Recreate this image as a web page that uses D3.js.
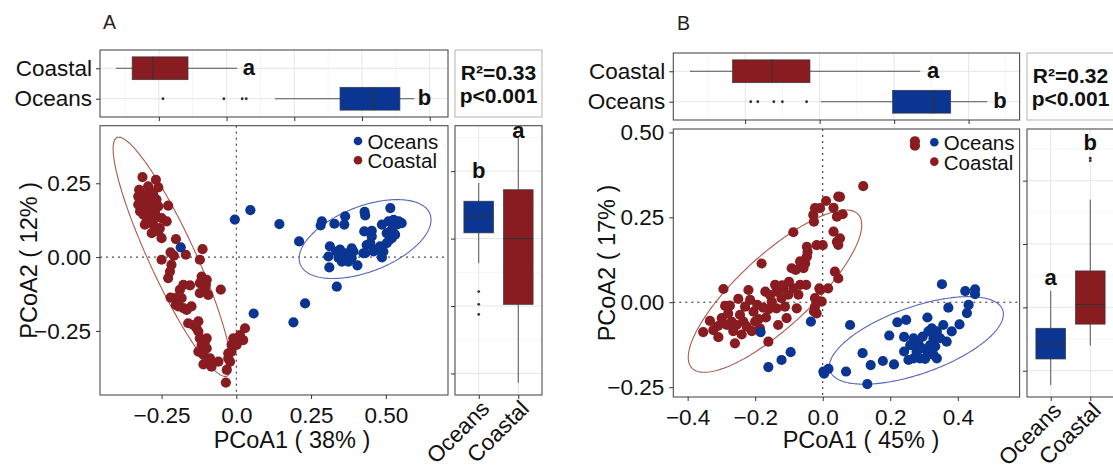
<!DOCTYPE html>
<html>
<head>
<meta charset="utf-8">
<script src="https://cdn.jsdelivr.net/npm/d3@7"></script>
<style>
  body { margin: 0; background: #fff; }
  svg { font-family: "Liberation Sans", Arial, sans-serif; }
</style>
</head>
<body>
<svg id="fig" width="1113" height="466"></svg>
<script>
// ---------------- data ----------------
const groups = ["Oceans", "Coastal"];
const groupColors = { Oceans: "#0b3592", Coastal: "#891c21" };
const ellipseColors = { Oceans: "#5566bb", Coastal: "#ad5a50" };

// Panel A: PCoA coordinates [PCoA1, PCoA2]
const coastalA = [
  [-0.314,0.271],[-0.269,0.262],[-0.261,0.236],[-0.325,0.228],[-0.295,0.240],[-0.289,0.223],
  [-0.328,0.206],[-0.311,0.212],[-0.278,0.212],[-0.267,0.195],[-0.300,0.189],[-0.328,0.178],
  [-0.317,0.161],[-0.289,0.166],[-0.261,0.172],[-0.228,0.174],[-0.311,0.144],[-0.295,0.138],
  [-0.272,0.144],[-0.250,0.132],[-0.233,0.121],[-0.306,0.110],[-0.278,0.110],[-0.256,0.098],
  [-0.283,0.081],[-0.250,0.064],[-0.261,0.087],[-0.300,0.121],[-0.322,0.155],[-0.289,0.206],
  [-0.272,0.155],[-0.306,0.189],[-0.283,0.178],[-0.295,0.149],[-0.278,0.127],[-0.323,0.195],
  [-0.202,0.061],[-0.113,0.027],[-0.169,0.008],[-0.220,0.016],[-0.209,0.005],[-0.250,-0.009],
  [-0.122,-0.009],[-0.217,-0.026],[-0.222,-0.049],[-0.228,-0.071],[-0.116,-0.066],[-0.099,-0.077],
  [-0.122,-0.088],[-0.102,-0.094],[-0.052,-0.110],[-0.122,-0.122],[-0.094,-0.128],[-0.105,-0.111],
  [-0.177,-0.094],[-0.155,-0.096],[-0.189,-0.111],[-0.205,-0.139],[-0.220,-0.137],[-0.183,-0.139],
  [-0.194,-0.167],[-0.177,-0.173],[-0.150,-0.167],[-0.166,-0.179],[-0.202,-0.162],[-0.161,-0.224],
  [-0.127,-0.218],[-0.133,-0.241],[-0.144,-0.230],[-0.127,-0.252],[-0.099,-0.275],[-0.116,-0.297],
  [-0.127,-0.320],[-0.099,-0.309],[-0.110,-0.331],[-0.088,-0.343],[-0.110,-0.363],[-0.083,-0.371],
  [-0.060,-0.354],[-0.027,-0.343],[-0.032,-0.382],[-0.021,-0.354],[-0.010,-0.275],[-0.016,-0.297],
  [0.001,-0.297],[0.029,-0.241],[0.023,-0.281],[0.012,-0.264],[-0.035,-0.425],[-0.016,-0.320],
  [-0.027,-0.326],[-0.122,-0.275],[-0.105,-0.286]
];
const oceansA = [
  [-0.186,0.033],[-0.005,0.127],[0.047,0.159],[0.058,-0.191],
  [0.144,0.112],[0.210,0.053],[0.191,-0.221],[0.230,-0.157],[0.336,-0.100],[0.286,0.121],
  [0.282,0.107],[0.328,0.113],[0.364,0.138],[0.361,0.110],[0.429,0.153],[0.431,0.141],
  [0.515,0.166],[0.487,0.110],[0.453,0.089],[0.453,0.070],[0.526,0.126],[0.537,0.110],
  [0.553,0.115],[0.520,0.093],[0.503,0.081],[0.520,0.064],[0.503,0.047],[0.481,0.036],
  [0.492,0.019],[0.487,-0.001],[0.459,0.019],[0.448,0.047],[0.436,0.041],[0.425,0.013],
  [0.313,0.036],[0.308,0.002],[0.311,-0.035],[0.347,0.025],[0.364,0.013],[0.386,0.030],
  [0.392,0.019],[0.353,-0.015],[0.375,-0.015],[0.386,-0.003],[0.405,-0.028],[0.342,-0.003],
  [0.509,0.121],[0.543,0.121],[0.531,0.076],[0.512,0.059],[0.470,0.025],[0.431,0.013],
  [0.428,0.087],[0.370,0.008],[0.334,0.019]
];

// Panel B: PCoA coordinates [PCoA1, PCoA2]
const coastalB = [
  [-0.354,-0.088],[-0.334,-0.055],[-0.309,-0.103],[-0.324,-0.082],[-0.294,0.039],[-0.289,-0.011],
  [-0.299,-0.047],[-0.280,-0.033],[-0.284,-0.067],[-0.270,-0.057],[-0.260,-0.121],[-0.255,-0.067],
  [-0.245,-0.037],[-0.235,-0.057],[-0.230,-0.013],[-0.220,0.036],[-0.215,0.007],[-0.225,-0.072],
  [-0.205,-0.028],[-0.200,-0.057],[-0.194,-0.008],[-0.186,-0.077],[-0.181,0.114],[-0.176,-0.016],
  [-0.168,-0.045],[-0.161,-0.116],[-0.170,0.031],[-0.156,0.021],[-0.151,0.002],[-0.141,0.051],
  [-0.137,0.031],[-0.137,-0.018],[-0.132,-0.067],[-0.122,0.012],[-0.117,0.041],[-0.112,-0.013],
  [-0.107,-0.047],[-0.102,0.022],[-0.087,0.206],[-0.092,0.100],[-0.087,0.041],[-0.077,-0.018],
  [-0.072,0.022],[-0.067,0.051],[-0.067,0.120],[-0.057,0.100],[-0.052,0.114],[-0.047,0.134],
  [-0.047,0.163],[-0.045,0.148],[-0.049,0.051],[-0.023,0.012],[-0.018,-0.033],[-0.010,0.041],
  [-0.018,0.168],[0.000,0.168],[-0.028,0.257],[-0.023,0.277],[-0.026,0.237],[-0.008,0.277],
  [0.010,0.298],[0.032,0.278],[0.046,0.311],[0.032,0.208],[0.042,0.178],[0.036,0.090],
  [0.046,0.070],[0.016,0.041],[-0.003,0.002],[-0.023,-0.013],[0.120,0.342],[0.051,0.310],
  [0.059,0.259],[0.042,0.252],[0.051,0.188],[0.046,0.169],[-0.008,0.036],[-0.026,-0.027],
  [-0.310,-0.070],[-0.265,-0.085],[-0.240,-0.095],[-0.210,-0.085],[-0.190,-0.050],[-0.160,-0.020],
  [-0.120,0.050],[-0.100,0.060],[-0.080,0.095],[-0.275,-0.010],[-0.250,0.010],
  [0.273,0.474],[0.273,0.461]
];
const oceansB = [
  [-0.035,-0.057],[-0.184,-0.088],[-0.161,-0.191],[-0.122,-0.170],[-0.095,-0.147],[0.002,-0.204],
  [0.017,-0.196],[0.081,-0.067],[0.004,-0.210],[0.069,-0.204],[0.118,-0.150],[0.142,-0.185],
  [0.132,-0.241],[0.178,-0.173],[0.211,-0.183],[0.197,-0.098],[0.221,-0.059],[0.247,-0.052],
  [0.241,-0.102],[0.259,-0.126],[0.241,-0.145],[0.254,-0.170],[0.269,-0.165],[0.283,-0.121],
  [0.288,-0.165],[0.303,-0.167],[0.296,-0.101],[0.310,-0.045],[0.323,-0.077],[0.318,-0.126],
  [0.310,-0.145],[0.328,-0.155],[0.333,-0.130],[0.338,-0.165],[0.348,-0.106],[0.357,-0.067],
  [0.353,0.053],[0.372,-0.016],[0.382,-0.086],[0.367,-0.116],[0.405,-0.065],[0.427,-0.032],
  [0.432,-0.008],[0.422,0.033],[0.451,0.038],[0.451,0.024],[0.278,-0.145],[0.293,-0.135],
  [0.328,-0.106],[0.338,-0.086],[0.313,-0.086],[0.269,-0.106]
];

// 95% ellipses: centre and two conjugate semi-diameters, in PCoA units
const ellipsesA = [
  { group: "Coastal", cx: -0.2152, cy: 0.0010, ux: 0.1841, uy: -0.4037, vx: 0.0699, vy: 0.0328 },
  { group: "Oceans",  cx: 0.4307,  cy: 0.0611, ux: 0.2169, uy: 0.0851,  vx: 0.0395, vy: -0.1031 }
];
const ellipsesB = [
  { group: "Coastal", cx: -0.1413, cy: 0.0326,  ux: 0.2465, uy: 0.2259, vx: 0.0723, vy: -0.0779 },
  { group: "Oceans",  cx: 0.2773,  cy: -0.1124, ux: 0.2556, uy: 0.0898, vx: 0.0330, vy: -0.0926 }
];

// Box statistics along PCoA1 (top) and PCoA2 (side)
const topBoxA = [
  { group: "Coastal", lo: -0.327, q1: -0.279, med: -0.217, q3: -0.114, hi: 0.031, out: [] },
  { group: "Oceans",  lo: 0.143,  q1: 0.335,  med: 0.433,  q3: 0.512,  hi: 0.554, out: [-0.188, -0.008, 0.046, 0.058] }
];
const sideBoxA = [
  { group: "Oceans",  lo: -0.073, q1: 0.017,  med: 0.066, q3: 0.111, hi: 0.165, out: [-0.157, -0.195, -0.225] },
  { group: "Coastal", lo: -0.428, q1: -0.195, med: 0.000, q3: 0.145, hi: 0.300, out: [] }
];
const topBoxB = [
  { group: "Coastal", lo: -0.348, q1: -0.234, med: -0.128, q3: -0.026, hi: 0.270, out: [] },
  { group: "Oceans",  lo: 0.003,  q1: 0.196,  med: 0.306,  q3: 0.352,  hi: 0.450, out: [-0.185, -0.166, -0.123, -0.100, -0.035] }
];
const sideBoxB = [
  { group: "Oceans",  lo: -0.245, q1: -0.163, med: -0.115, q3: -0.066, hi: 0.052, out: [] },
  { group: "Coastal", lo: -0.121, q1: -0.053, med: 0.009,  q3: 0.115,  hi: 0.340, out: [0.471, 0.463] }
];

// Significance letters: [group, label, position on value axis]
const topLettersA  = [["Coastal", "a", 0.048], ["Oceans", "b", 0.565]];
const sideLettersA = [["Oceans", "b", 0.180], ["Coastal", "a", 0.299]];
const topLettersB  = [["Coastal", "a", 0.288], ["Oceans", "b", 0.466]];
const sideLettersB = [["Oceans", "a", 0.070], ["Coastal", "b", 0.497]];

// PERMANOVA results
const statsA = ["R\u00B2=0.33", "p<0.001"];
const statsB = ["R\u00B2=0.32", "p<0.001"];

// Axis titles
const titlesA = ["PCoA1 ( 38% )", "PCoA2 ( 12% )"];
const titlesB = ["PCoA1 ( 45% )", "PCoA2 ( 17% )"];

// Tick values and labels
const xTicksA = [-0.25, 0, 0.25, 0.5];
const xTickLabelsA = ["\u22120.25", "0.0", "0.25", "0.50"];
const yTicksA = [-0.25, 0, 0.25];
const yTickLabelsA = ["\u22120.25", "0.00", "0.25"];
const xTicksB = [-0.4, -0.2, 0, 0.2, 0.4];
const xTickLabelsB = ["\u22120.4", "\u22120.2", "0.0", "0.2", "0.4"];
const yTicksB = [-0.25, 0, 0.25, 0.5];
const yTickLabelsB = ["\u22120.25", "0.00", "0.25", "0.50"];
const topTicksA = [-0.2, 0, 0.2, 0.4, 0.6];
const sideTicksA = [-0.4, -0.2, 0, 0.2];
const topTicksB = [-0.2, 0, 0.2, 0.4];
const sideTicksB = [-0.2, 0, 0.2, 0.4];

// ---------------- layout ----------------
const panels = [
  {
    tag: "A", tagPos: [103, 29],
    coastal: coastalA, oceans: oceansA, ellipses: ellipsesA,
    topBox: topBoxA, sideBox: sideBoxA, topLetters: topLettersA, sideLetters: sideLettersA,
    stats: statsA, titles: titlesA,
    xTicks: xTicksA, xTickLabels: xTickLabelsA, yTicks: yTicksA, yTickLabels: yTickLabelsA,
    topTicks: topTicksA, sideTicks: sideTicksA,
    main: [100, 448, 125.7, 395], xDomain: [-0.456, 0.708], yDomain: [-0.467, 0.445],
    top: [100, 448, 50, 117], topDomain: [-0.374, 0.654],
    side: [455, 542, 125.7, 395], sideDomain: [-0.464, 0.335],
    stat: [455, 542, 50, 117],
    legend: [358, 141], xTitleX: 292, yTitleX: 37
  },
  {
    tag: "B", tagPos: [677, 30],
    coastal: coastalB, oceans: oceansB, ellipses: ellipsesB,
    topBox: topBoxB, sideBox: sideBoxB, topLetters: topLettersB, sideLetters: sideLettersB,
    stats: statsB, titles: titlesB,
    xTicks: xTicksB, xTickLabels: xTickLabelsB, yTicks: yTicksB, yTickLabels: yTickLabelsB,
    topTicks: topTicksB, sideTicks: sideTicksB,
    main: [673.3, 1019.6, 129, 397], xDomain: [-0.4425, 0.583], yDomain: [-0.279, 0.51],
    top: [673.3, 1019.6, 53, 120], topDomain: [-0.393, 0.537],
    side: [1027, 1114, 129, 397], sideDomain: [-0.283, 0.563],
    stat: [1027, 1114, 53, 120],
    legend: [934.3, 142.3], xTitleX: 861, yTitleX: 615
  }
];

// ---------------- drawing ----------------
const svg = d3.select("#fig");
const BORDER = "#4d4d4d", GRID = "#e6e6e6", GRID_MINOR = "#f3f3f3";
const TICK_FONT = 22.5;

function minorTicks(majors, domain) {
  const step = majors[1] - majors[0];
  const lo = Math.min(...domain), hi = Math.max(...domain);
  const out = [];
  for (let k = -6; k < majors.length + 6; k++) {
    const v = majors[0] + (k + 0.5) * step;
    if (v > lo && v < hi) out.push(v);
  }
  return out;
}

function styleAxis(sel, size) {
  sel.select(".domain").remove();
  sel.selectAll(".tick line").attr("stroke", "#333").attr("stroke-width", 1);
  sel.selectAll(".tick text").attr("fill", "#111").attr("font-size", size)
     .attr("font-family", "'Liberation Sans', Arial, sans-serif");
}

function drawBox(g, s, pos, thick, vs, horizontal) {
  const c = groupColors[s.group];
  const line = (a, b) => horizontal
    ? g.append("line").attr("x1", vs(a)).attr("x2", vs(b)).attr("y1", pos).attr("y2", pos)
    : g.append("line").attr("y1", vs(a)).attr("y2", vs(b)).attr("x1", pos).attr("x2", pos);
  line(s.lo, s.q1).attr("stroke", "#555").attr("stroke-width", 1);
  line(s.q3, s.hi).attr("stroke", "#555").attr("stroke-width", 1);
  if (horizontal) {
    g.append("rect").attr("x", vs(s.q1)).attr("width", vs(s.q3) - vs(s.q1))
      .attr("y", pos - thick / 2).attr("height", thick)
      .attr("fill", c).attr("stroke", "#3a3a3a").attr("stroke-width", 0.7);
    g.append("line").attr("x1", vs(s.med)).attr("x2", vs(s.med))
      .attr("y1", pos - thick / 2).attr("y2", pos + thick / 2)
      .attr("stroke", "#333").attr("stroke-width", 1.1);
  } else {
    g.append("rect").attr("y", vs(s.q3)).attr("height", vs(s.q1) - vs(s.q3))
      .attr("x", pos - thick / 2).attr("width", thick)
      .attr("fill", c).attr("stroke", "#3a3a3a").attr("stroke-width", 0.7);
    g.append("line").attr("y1", vs(s.med)).attr("y2", vs(s.med))
      .attr("x1", pos - thick / 2).attr("x2", pos + thick / 2)
      .attr("stroke", "#333").attr("stroke-width", 1.1);
  }
  s.out.forEach(v => {
    g.append("circle").attr("r", 1.4).attr("fill", "#333")
      .attr(horizontal ? "cx" : "cy", vs(v)).attr(horizontal ? "cy" : "cx", pos);
  });
}

panels.forEach((P, pi) => {
  const g = svg.append("g");

  // panel tag
  g.append("text").attr("x", P.tagPos[0]).attr("y", P.tagPos[1])
    .attr("font-size", 19.5).attr("fill", "#222").text(P.tag);

  // ---------- top boxplot: PCoA1 by group ----------
  {
    const [x0, x1, y0, y1] = P.top;
    const vs = d3.scaleLinear().domain(P.topDomain).range([x0, x1]);
    const cs = d3.scalePoint().domain(["Coastal", "Oceans"]).range([y0, y1]).padding(0.6);
    const tg = g.append("g");
    tg.append("rect").attr("x", x0).attr("y", y0).attr("width", x1 - x0).attr("height", y1 - y0).attr("fill", "#fff");
    minorTicks(P.topTicks, P.topDomain).forEach(v =>
      tg.append("line").attr("x1", vs(v)).attr("x2", vs(v)).attr("y1", y0).attr("y2", y1)
        .attr("stroke", GRID_MINOR).attr("stroke-width", 0.8));
    P.topTicks.forEach(v =>
      tg.append("line").attr("x1", vs(v)).attr("x2", vs(v)).attr("y1", y0).attr("y2", y1)
        .attr("stroke", GRID).attr("stroke-width", 1));
    cs.domain().forEach(c =>
      tg.append("line").attr("x1", x0).attr("x2", x1).attr("y1", cs(c)).attr("y2", cs(c))
        .attr("stroke", GRID).attr("stroke-width", 1));
    const thick = cs.step() * 0.75;
    P.topBox.forEach(s => drawBox(tg, s, cs(s.group), thick, vs, true));
    P.topLetters.forEach(([grp, lab, v]) =>
      tg.append("text").attr("x", vs(v)).attr("y", cs(grp) + 6.5)
        .attr("font-size", 22).attr("font-weight", "bold").attr("fill", "#111").text(lab));
    tg.append("rect").attr("x", x0).attr("y", y0).attr("width", x1 - x0).attr("height", y1 - y0)
      .attr("fill", "none").attr("stroke", BORDER).attr("stroke-width", 1.1);
    tg.append("g").attr("transform", `translate(0,${y1})`)
      .call(d3.axisBottom(vs).tickValues(P.topTicks).tickSize(4).tickFormat(""))
      .call(a => styleAxis(a, TICK_FONT));
    tg.append("g").attr("transform", `translate(${x0},0)`)
      .call(d3.axisLeft(cs).tickSize(4).tickPadding(4))
      .call(a => styleAxis(a, TICK_FONT));
  }

  // ---------- statistics box ----------
  {
    const [x0, x1, y0, y1] = P.stat;
    const sg = g.append("g");
    sg.append("rect").attr("x", x0).attr("y", y0).attr("width", x1 - x0).attr("height", y1 - y0)
      .attr("fill", "#fff").attr("stroke", "#b3b3b3").attr("stroke-width", 1);
    P.stats.forEach((t, i) =>
      sg.append("text").attr("x", (x0 + x1) / 2).attr("y", y0 + 29.5 + i * 23.5)
        .attr("text-anchor", "middle").attr("font-size", 21).attr("font-weight", "bold")
        .attr("fill", "#111").text(t));
  }

  // ---------- side boxplot: PCoA2 by group ----------
  {
    const [x0, x1, y0, y1] = P.side;
    const vs = d3.scaleLinear().domain(P.sideDomain).range([y1, y0]);
    const cs = d3.scalePoint().domain(groups).range([x0, x1]).padding(0.6);
    const bg = g.append("g");
    bg.append("rect").attr("x", x0).attr("y", y0).attr("width", x1 - x0).attr("height", y1 - y0).attr("fill", "#fff");
    minorTicks(P.sideTicks, P.sideDomain).forEach(v =>
      bg.append("line").attr("y1", vs(v)).attr("y2", vs(v)).attr("x1", x0).attr("x2", x1)
        .attr("stroke", GRID_MINOR).attr("stroke-width", 0.8));
    P.sideTicks.forEach(v =>
      bg.append("line").attr("y1", vs(v)).attr("y2", vs(v)).attr("x1", x0).attr("x2", x1)
        .attr("stroke", GRID).attr("stroke-width", 1));
    groups.forEach(c =>
      bg.append("line").attr("x1", cs(c)).attr("x2", cs(c)).attr("y1", y0).attr("y2", y1)
        .attr("stroke", GRID).attr("stroke-width", 1));
    const thick = cs.step() * 0.75;
    P.sideBox.forEach(s => drawBox(bg, s, cs(s.group), thick, vs, false));
    P.sideLetters.forEach(([grp, lab, v]) =>
      bg.append("text").attr("x", cs(grp)).attr("y", vs(v)).attr("text-anchor", "middle")
        .attr("font-size", 22).attr("font-weight", "bold").attr("fill", "#111").text(lab));
    bg.append("rect").attr("x", x0).attr("y", y0).attr("width", x1 - x0).attr("height", y1 - y0)
      .attr("fill", "none").attr("stroke", BORDER).attr("stroke-width", 1.1);
    bg.append("g").attr("transform", `translate(${x0},0)`)
      .call(d3.axisLeft(vs).tickValues(P.sideTicks).tickSize(4).tickFormat(""))
      .call(a => styleAxis(a, TICK_FONT));
    bg.append("g").attr("transform", `translate(0,${y1})`)
      .call(d3.axisBottom(cs).tickSize(4).tickFormat(""))
      .call(a => styleAxis(a, TICK_FONT));
    groups.forEach(c =>
      bg.append("text").attr("transform", `translate(${cs(c) + 12},${y1 + 15}) rotate(-45)`)
        .attr("text-anchor", "end").attr("font-size", TICK_FONT).attr("fill", "#111").text(c));
  }

  // ---------- PCoA scatter ----------
  {
    const [x0, x1, y0, y1] = P.main;
    const x = d3.scaleLinear().domain(P.xDomain).range([x0, x1]);
    const y = d3.scaleLinear().domain(P.yDomain).range([y1, y0]);
    const mg = g.append("g");
    const clipId = "clip" + pi;
    mg.append("clipPath").attr("id", clipId).append("rect")
      .attr("x", x0).attr("y", y0).attr("width", x1 - x0).attr("height", y1 - y0);
    mg.append("rect").attr("x", x0).attr("y", y0).attr("width", x1 - x0).attr("height", y1 - y0).attr("fill", "#fff");
    const inner = mg.append("g").attr("clip-path", `url(#${clipId})`);

    // zero reference lines
    inner.append("line").attr("x1", x(0)).attr("x2", x(0)).attr("y1", y0).attr("y2", y1)
      .attr("stroke", "#222").attr("stroke-width", 1).attr("stroke-dasharray", "2,4");
    inner.append("line").attr("x1", x0).attr("x2", x1).attr("y1", y(0)).attr("y2", y(0))
      .attr("stroke", "#222").attr("stroke-width", 1).attr("stroke-dasharray", "2,4");

    // confidence ellipses
    const lineGen = d3.line().x(d => x(d[0])).y(d => y(d[1])).curve(d3.curveLinearClosed);
    P.ellipses.forEach(e => {
      const pts = d3.range(0, 2 * Math.PI, Math.PI / 120).map(t => [
        e.cx + e.ux * Math.cos(t) + e.vx * Math.sin(t),
        e.cy + e.uy * Math.cos(t) + e.vy * Math.sin(t)
      ]);
      inner.append("path").attr("d", lineGen(pts)).attr("fill", "none")
        .attr("stroke", ellipseColors[e.group]).attr("stroke-width", 1.1);
    });

    // samples
    [["Coastal", P.coastal], ["Oceans", P.oceans]].forEach(([grp, pts]) => {
      inner.append("g").selectAll("circle").data(pts).join("circle")
        .attr("cx", d => x(d[0])).attr("cy", d => y(d[1])).attr("r", 5.1)
        .attr("fill", groupColors[grp]);
    });

    // legend
    const [lx, ly] = P.legend;
    groups.forEach((grp, i) => {
      mg.append("circle").attr("cx", lx).attr("cy", ly + i * 19.3).attr("r", 4.3).attr("fill", groupColors[grp]);
      mg.append("text").attr("x", lx + 9.5).attr("y", ly + i * 19.3 + 8)
        .attr("font-size", 20.5).attr("fill", "#111").text(grp);
    });

    mg.append("rect").attr("x", x0).attr("y", y0).attr("width", x1 - x0).attr("height", y1 - y0)
      .attr("fill", "none").attr("stroke", BORDER).attr("stroke-width", 1.1);

    mg.append("g").attr("transform", `translate(0,${y1})`)
      .call(d3.axisBottom(x).tickValues(P.xTicks).tickSize(4).tickPadding(8)
        .tickFormat((d, i) => P.xTickLabels[i]))
      .call(a => styleAxis(a, TICK_FONT));
    mg.append("g").attr("transform", `translate(${x0},0)`)
      .call(d3.axisLeft(y).tickValues(P.yTicks).tickSize(4).tickPadding(5)
        .tickFormat((d, i) => P.yTickLabels[i]))
      .call(a => styleAxis(a, TICK_FONT));

    mg.append("text").attr("x", P.xTitleX).attr("y", 448.3).attr("text-anchor", "middle")
      .attr("font-size", 23.5).attr("fill", "#111").text(P.titles[0]);
    mg.append("text").attr("transform", `translate(${P.yTitleX},${(y0 + y1) / 2}) rotate(-90)`)
      .attr("text-anchor", "middle").attr("font-size", 23.5).attr("fill", "#111").text(P.titles[1]);
  }
});
</script>
</body>
</html>
